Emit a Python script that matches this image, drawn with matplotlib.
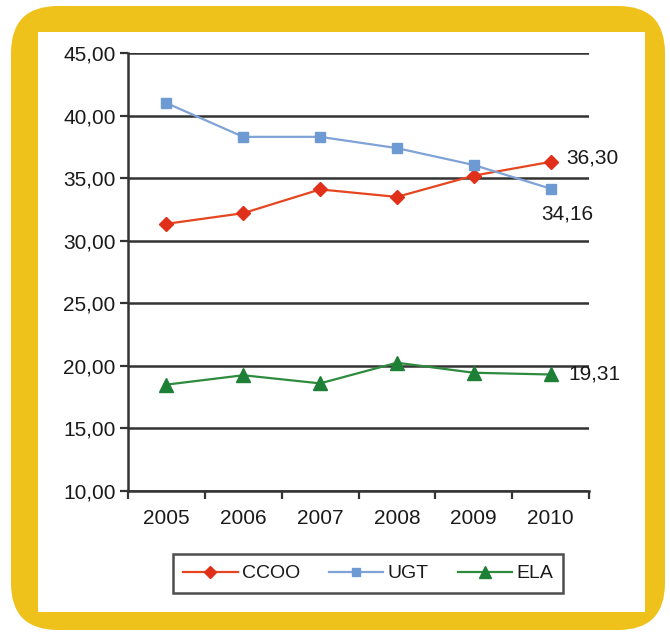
import matplotlib
matplotlib.use("Agg")
import matplotlib.pyplot as plt
from matplotlib.patches import FancyBboxPatch, Rectangle
from matplotlib.ticker import FuncFormatter

years = ["2005", "2006", "2007", "2008", "2009", "2010"]
ccoo = [31.35, 32.2, 34.1, 33.5, 35.2, 36.30]
ugt = [41.0, 38.3, 38.3, 37.4, 36.05, 34.16]
ela = [18.5, 19.25, 18.6, 20.25, 19.45, 19.31]

plt.rcParams["font.family"] = ["Liberation Sans", "DejaVu Sans"]

W, H = 670, 636
fig = plt.figure(figsize=(W / 100, H / 100), dpi=100)

# yellow rounded frame with white panel
fig.patches.append(FancyBboxPatch((11 / W, 6 / H), 654 / W, 624 / H,
                                  boxstyle="round,pad=0,rounding_size=0.07",
                                  transform=fig.transFigure, facecolor="#EFC11B",
                                  edgecolor="none", mutation_aspect=W / H, zorder=-2))
fig.patches.append(Rectangle((38 / W, (H - 612) / H), 607 / W, 580 / H,
                             transform=fig.transFigure, facecolor="white",
                             edgecolor="none", zorder=-1))

ax = fig.add_axes([128 / W, (H - 491) / H, (589 - 128) / W, (491 - 53) / H])
ax.set_facecolor("none")

x = list(range(len(years)))
ax.plot(x, ccoo, color="#E5461F", lw=1.6, marker="D", ms=7.5,
        mfc="#E0301A", mec="#E0301A", label="CCOO", zorder=3)
ax.plot(x, ugt, color="#7FA3D6", lw=1.6, marker="s", ms=7,
        mfc="#6D9AD3", mec="#6D9AD3", label="UGT", zorder=3)
ax.plot(x, ela, color="#2E8B3E", lw=1.6, marker="^", ms=10,
        mfc="#1E7F36", mec="#1E7F36", label="ELA", zorder=3)

ax.set_xlim(-0.5, len(years) - 0.5)
ax.set_ylim(10, 45)
ax.set_yticks(range(10, 46, 5))
ax.yaxis.set_major_formatter(FuncFormatter(lambda v, p: f"{v:.2f}".replace(".", ",")))
ax.yaxis.grid(True, color="#333333", lw=1.8)
ax.set_axisbelow(True)

ax.set_xticks([i - 0.5 for i in range(len(years) + 1)])
ax.set_xticklabels([])
ax.set_xticks(x, minor=True)
ax.set_xticklabels(years, minor=True)
ax.tick_params(axis="x", which="major", length=6, width=1.6, color="#333333")
ax.tick_params(axis="x", which="minor", length=0, pad=13, labelsize=15, labelcolor="#1a1a1a")
ax.tick_params(axis="y", length=6, width=1.6, color="#333333", pad=3,
               labelsize=15, labelcolor="#1a1a1a")

for side in ["top", "right"]:
    ax.spines[side].set_visible(False)
for side in ["left", "bottom"]:
    ax.spines[side].set_color("#333333")
    ax.spines[side].set_linewidth(1.8)

def lab(v):
    return f"{v:.2f}".replace(".", ",")

ax.annotate(lab(ccoo[-1]), (x[-1], ccoo[-1]), xytext=(11, 3), textcoords="offset points",
            ha="left", va="center", fontsize=15, color="#1a1a1a", annotation_clip=False)
ax.annotate(lab(ugt[-1]), (x[-1], ugt[-1]), xytext=(12, -18), textcoords="offset points",
            ha="center", va="center", fontsize=15, color="#1a1a1a", annotation_clip=False)
ax.annotate(lab(ela[-1]), (x[-1], ela[-1]), xytext=(13, 0), textcoords="offset points",
            ha="left", va="center", fontsize=15, color="#1a1a1a", annotation_clip=False)

leg = fig.legend(loc="center", bbox_to_anchor=(368 / W, (H - 573.5) / H), ncol=3,
                 fontsize=14, frameon=True, fancybox=False, handlelength=2.8,
                 handletextpad=0.2, columnspacing=1.5, borderpad=0.55, markerscale=0.8)
leg.get_frame().set_edgecolor("#222222")
leg.get_frame().set_linewidth(1.8)
for t in leg.get_texts():
    t.set_color("#1a1a1a")

fig.savefig("out.png", dpi=100)
